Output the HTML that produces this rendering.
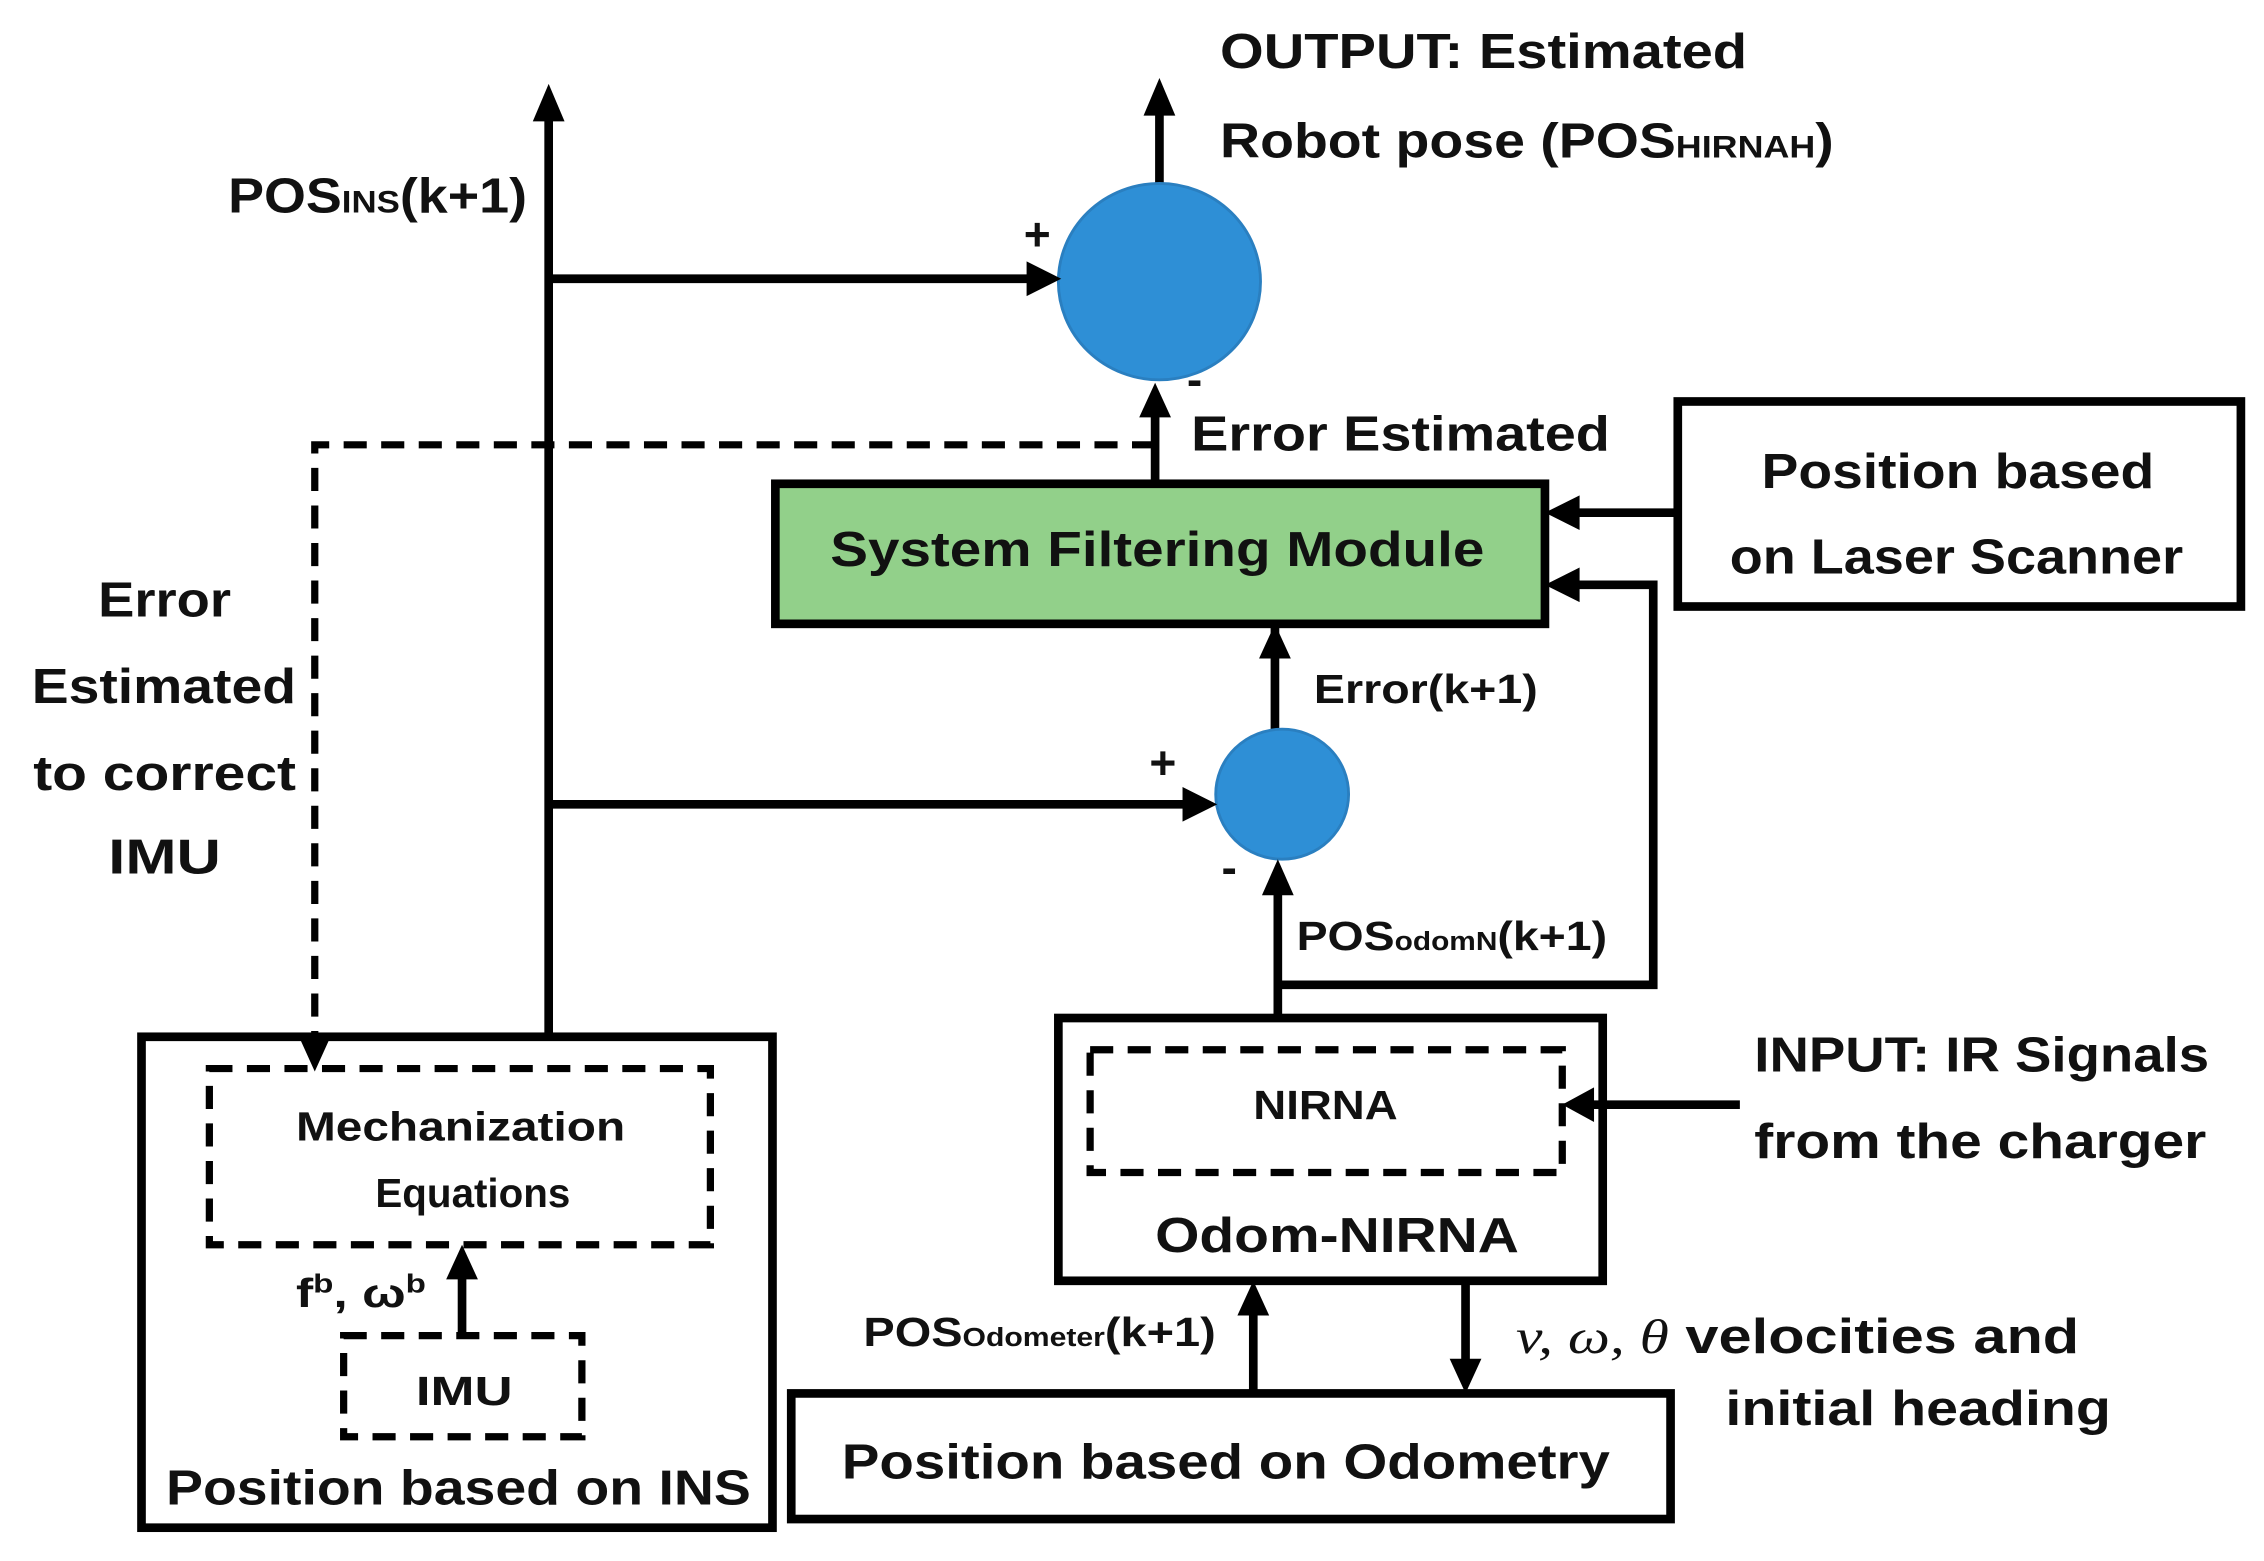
<!DOCTYPE html>
<html><head><meta charset="utf-8"><style>html,body{margin:0;padding:0;background:#fff}svg{display:block}</style></head>
<body>
<svg width="2264" height="1561" viewBox="0 0 1568 1081" xmlns="http://www.w3.org/2000/svg" font-family="Liberation Sans, sans-serif" font-weight="bold" fill="#111">
<g stroke="#000" stroke-width="6" fill="none">
<!-- boxes -->
<rect x="537" y="335" width="533" height="97" fill="#92d08a"/>
<rect x="1162" y="278" width="390" height="142" fill="#fff"/>
<rect x="733" y="705" width="377" height="182" fill="#fff"/>
<rect x="548" y="965" width="609" height="87" fill="#fff"/>
<rect x="98" y="718" width="437" height="340" fill="#fff"/>
<!-- main vertical -->
<line x1="380" y1="78" x2="380" y2="718"/>
<line x1="380" y1="193" x2="715" y2="193"/>
<line x1="380" y1="557" x2="823" y2="557"/>
<line x1="803" y1="127" x2="803" y2="75"/>
<line x1="800" y1="335" x2="800" y2="285"/>
<line x1="883" y1="432" x2="883" y2="505"/>
<line x1="885" y1="705" x2="885" y2="615"/>
<polyline points="885,682 1145,682 1145,405 1090,405"/>
<line x1="1162" y1="355" x2="1090" y2="355"/>
<line x1="1205" y1="765" x2="1100" y2="765"/>
<line x1="868" y1="965" x2="868" y2="907"/>
<line x1="1015" y1="887" x2="1015" y2="945"/>
<line x1="320" y1="925" x2="320" y2="882"/>
</g>
<g stroke="#000" stroke-width="5" fill="none" stroke-dasharray="16,10">
<polyline points="800,308 218,308 218,725"/>
<rect x="755" y="727" width="327" height="85"/>
<rect x="145" y="740" width="347" height="122"/>
<rect x="238" y="925" width="165" height="70"/>
</g>
<ellipse cx="803" cy="195" rx="70" ry="68" fill="#2e8fd6" stroke="#2a7fc0" stroke-width="2"/>
<ellipse cx="888" cy="550" rx="46" ry="45" fill="#2e8fd6" stroke="#2a7fc0" stroke-width="2"/>
<g fill="#000">
<polygon points="369,84 380,58 391,84"/>
<polygon points="792,80 803,54 814,80"/>
<polygon points="711,181 735,193 711,205"/>
<polygon points="819,545 843,557 819,569"/>
<polygon points="789,289 800,265 811,289"/>
<polygon points="872,456 883,432 894,456"/>
<polygon points="874,620 885,595 896,620"/>
<polygon points="1094,343 1070,355 1094,367"/>
<polygon points="1094,393 1070,405 1094,417"/>
<polygon points="1104,753 1082,765 1104,777"/>
<polygon points="857,911 868,887 879,911"/>
<polygon points="1004,941 1015,965 1026,941"/>
<polygon points="309,886 320,862 331,886"/>
<polygon points="208,720 218,742 228,720"/>
</g>
<g font-size="34">
<text x="158" y="147" textLength="207" lengthAdjust="spacingAndGlyphs">POS<tspan font-size="22">INS</tspan>(k+1)</text>
<text x="845" y="47" textLength="365" lengthAdjust="spacingAndGlyphs">OUTPUT: Estimated</text>
<text x="845" y="109" textLength="425" lengthAdjust="spacingAndGlyphs">Robot pose (POS<tspan font-size="22">HIRNAH</tspan>)</text>
<text x="825" y="312" textLength="290" lengthAdjust="spacingAndGlyphs">Error Estimated</text>
<text x="575" y="392" textLength="453" lengthAdjust="spacingAndGlyphs">System Filtering Module</text>
<text x="1220" y="338" textLength="272" lengthAdjust="spacingAndGlyphs">Position based</text>
<text x="1198" y="397" textLength="314" lengthAdjust="spacingAndGlyphs">on Laser Scanner</text>
<text x="800" y="867" textLength="252" lengthAdjust="spacingAndGlyphs">Odom-NIRNA</text>
<text x="1215" y="742" textLength="315" lengthAdjust="spacingAndGlyphs">INPUT: IR Signals</text>
<text x="1215" y="802" textLength="313" lengthAdjust="spacingAndGlyphs">from the charger</text>
<text x="1050" y="937" textLength="390" lengthAdjust="spacingAndGlyphs"><tspan font-family="Liberation Serif, serif" font-style="italic" font-weight="normal">v, ω, θ</tspan> velocities and</text>
<text x="1195" y="987" textLength="267" lengthAdjust="spacingAndGlyphs">initial heading</text>
<text x="583" y="1024" textLength="532" lengthAdjust="spacingAndGlyphs">Position based on Odometry</text>
<text x="115" y="1042" textLength="405" lengthAdjust="spacingAndGlyphs">Position based on INS</text>
<text x="68" y="427" textLength="92" lengthAdjust="spacingAndGlyphs">Error</text>
<text x="22" y="487" textLength="183" lengthAdjust="spacingAndGlyphs">Estimated</text>
<text x="23" y="547" textLength="182" lengthAdjust="spacingAndGlyphs">to correct</text>
<text x="75" y="605" textLength="78" lengthAdjust="spacingAndGlyphs">IMU</text>
<text x="709" y="173" font-size="32">+</text>
<text x="822" y="274" font-size="32">-</text>
<text x="796" y="539" font-size="32">+</text>
<text x="846" y="612" font-size="32">-</text>
</g>
<g font-size="28">
<text x="910" y="487" textLength="155" lengthAdjust="spacingAndGlyphs">Error(k+1)</text>
<text x="898" y="658" textLength="215" lengthAdjust="spacingAndGlyphs">POS<tspan font-size="18">odomN</tspan>(k+1)</text>
<text x="868" y="775" textLength="100" lengthAdjust="spacingAndGlyphs">NIRNA</text>
<text x="598" y="932" textLength="244" lengthAdjust="spacingAndGlyphs">POS<tspan font-size="18">Odometer</tspan>(k+1)</text>
<text x="205" y="790" textLength="228" lengthAdjust="spacingAndGlyphs">Mechanization</text>
<text x="260" y="836" textLength="135" lengthAdjust="spacingAndGlyphs">Equations</text>
<text x="288" y="973" textLength="67" lengthAdjust="spacingAndGlyphs">IMU</text>
<text x="205" y="905" textLength="90" lengthAdjust="spacingAndGlyphs">f<tspan font-size="18" dy="-10">b</tspan><tspan dy="10">, ω</tspan><tspan font-size="18" dy="-10">b</tspan></text>
</g>
</svg>
</body></html>
